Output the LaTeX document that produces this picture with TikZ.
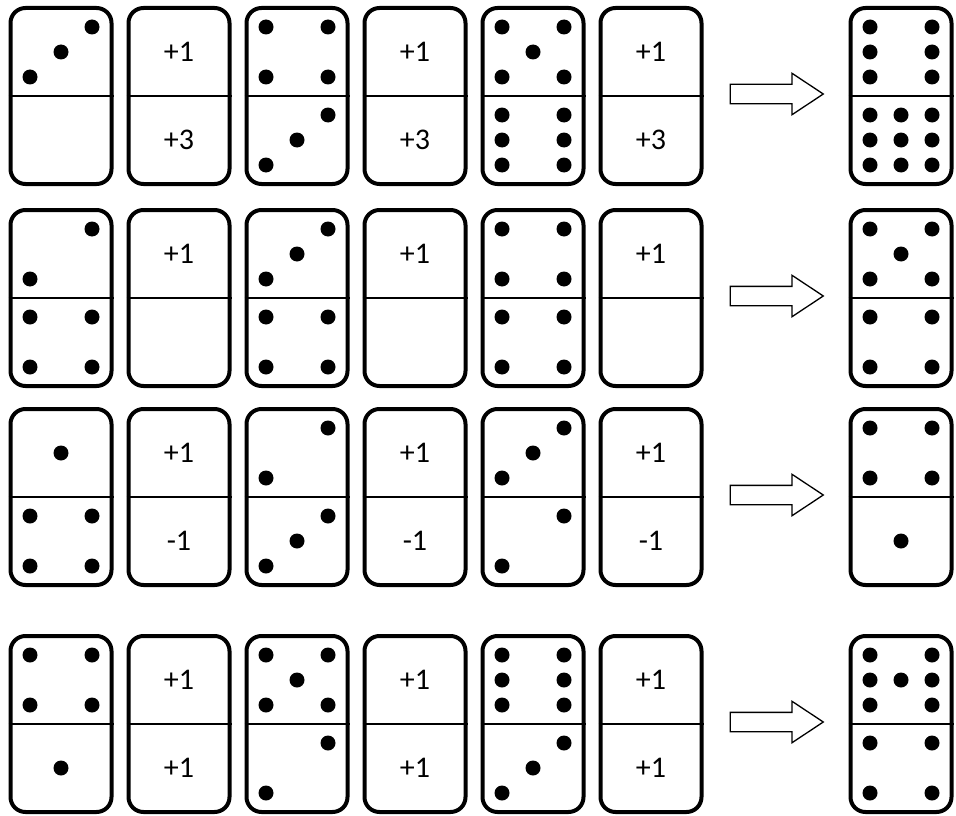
\documentclass[tikz,border=0pt]{standalone}
\usepackage{fontspec}
\setmainfont{Carlito}
\usetikzlibrary{shapes.arrows}

\tikzset{
  tile/.style={draw, line width=4pt, rounded corners=15pt,
    minimum width=101pt, minimum height=176pt, inner sep=0pt},
  halfline/.style={line width=2.6pt},
  bonus/.style={font=\fontsize{30}{30}\selectfont, inner sep=0pt},
  push/.style={single arrow, draw, line width=1.3pt, inner xsep=0pt, inner ysep=9pt,
    minimum height=93pt, single arrow head extend=11pt, single arrow tip angle=67},
}

% pip offsets, in units of the pip grid
\def\onepips{0/0}
\def\twopips{1/-1,-1/1}
\def\threepips{-1/1,0/0,1/-1}
\def\fourpips{-1/-1,1/-1,-1/1,1/1}
\def\fivepips{-1/-1,1/-1,0/0,-1/1,1/1}
\def\sixpips{-1/-1,1/-1,-1/0,1/0,-1/1,1/1}
\def\sevenpips{-1/-1,1/-1,-1/0,0/0,1/0,-1/1,1/1}
\def\ninepips{-1/-1,0/-1,1/-1,-1/0,0/0,1/0,-1/1,0/1,1/1}

\newcommand\pipsat[3]{%
  \foreach \u/\v in #3 {\fill ({#1+31*\u},{#2+25*\v}) circle (7.5pt);}}

\begin{document}
\begin{tikzpicture}[x=1pt, y=-1pt]
  \useasboundingbox (0,0) rectangle (956,816);

  % tiles, split lines and arrows
  \foreach \y/\r in {96/1, 298/2, 497/3, 724/4} {
    \foreach \x/\c in {61/1, 179/2, 297/3, 415/4, 533/5, 651/6, 901/7} {
      \node[tile] (d\r\c) at (\x,\y) {};
      \draw[halfline] (d\r\c.west) -- (d\r\c.east);
    }
    \node[push] (p\r) at (769.5,\y-2) {};
  }

  % row 1
  \pipsat{61}{52}{\threepips}
  \node[bonus] (n12t) at (179,52) {+1};
  \node[bonus] (n12b) at (179,140) {+3};
  \pipsat{297}{52}{\fourpips}
  \pipsat{297}{140}{\threepips}
  \node[bonus] (n14t) at (415,52) {+1};
  \node[bonus] (n14b) at (415,140) {+3};
  \pipsat{533}{52}{\fivepips}
  \pipsat{533}{140}{\sixpips}
  \node[bonus] (n16t) at (651,52) {+1};
  \node[bonus] (n16b) at (651,140) {+3};
  \pipsat{901}{52}{\sixpips}
  \pipsat{901}{140}{\ninepips}

  % row 2
  \pipsat{61}{254}{\twopips}
  \pipsat{61}{342}{\fourpips}
  \node[bonus] (n22t) at (179,254) {+1};
  \pipsat{297}{254}{\threepips}
  \pipsat{297}{342}{\fourpips}
  \node[bonus] (n24t) at (415,254) {+1};
  \pipsat{533}{254}{\fourpips}
  \pipsat{533}{342}{\fourpips}
  \node[bonus] (n26t) at (651,254) {+1};
  \pipsat{901}{254}{\fivepips}
  \pipsat{901}{342}{\fourpips}

  % row 3
  \pipsat{61}{453}{\onepips}
  \pipsat{61}{541}{\fourpips}
  \node[bonus] (n32t) at (179,453) {+1};
  \node[bonus] (n32b) at (179,541) {-1};
  \pipsat{297}{453}{\twopips}
  \pipsat{297}{541}{\threepips}
  \node[bonus] (n34t) at (415,453) {+1};
  \node[bonus] (n34b) at (415,541) {-1};
  \pipsat{533}{453}{\threepips}
  \pipsat{533}{541}{\twopips}
  \node[bonus] (n36t) at (651,453) {+1};
  \node[bonus] (n36b) at (651,541) {-1};
  \pipsat{901}{453}{\fourpips}
  \pipsat{901}{541}{\onepips}

  % row 4
  \pipsat{61}{680}{\fourpips}
  \pipsat{61}{768}{\onepips}
  \node[bonus] (n42t) at (179,680) {+1};
  \node[bonus] (n42b) at (179,768) {+1};
  \pipsat{297}{680}{\fivepips}
  \pipsat{297}{768}{\twopips}
  \node[bonus] (n44t) at (415,680) {+1};
  \node[bonus] (n44b) at (415,768) {+1};
  \pipsat{533}{680}{\sixpips}
  \pipsat{533}{768}{\threepips}
  \node[bonus] (n46t) at (651,680) {+1};
  \node[bonus] (n46b) at (651,768) {+1};
  \pipsat{901}{680}{\sevenpips}
  \pipsat{901}{768}{\fourpips}
\end{tikzpicture}
\end{document}
